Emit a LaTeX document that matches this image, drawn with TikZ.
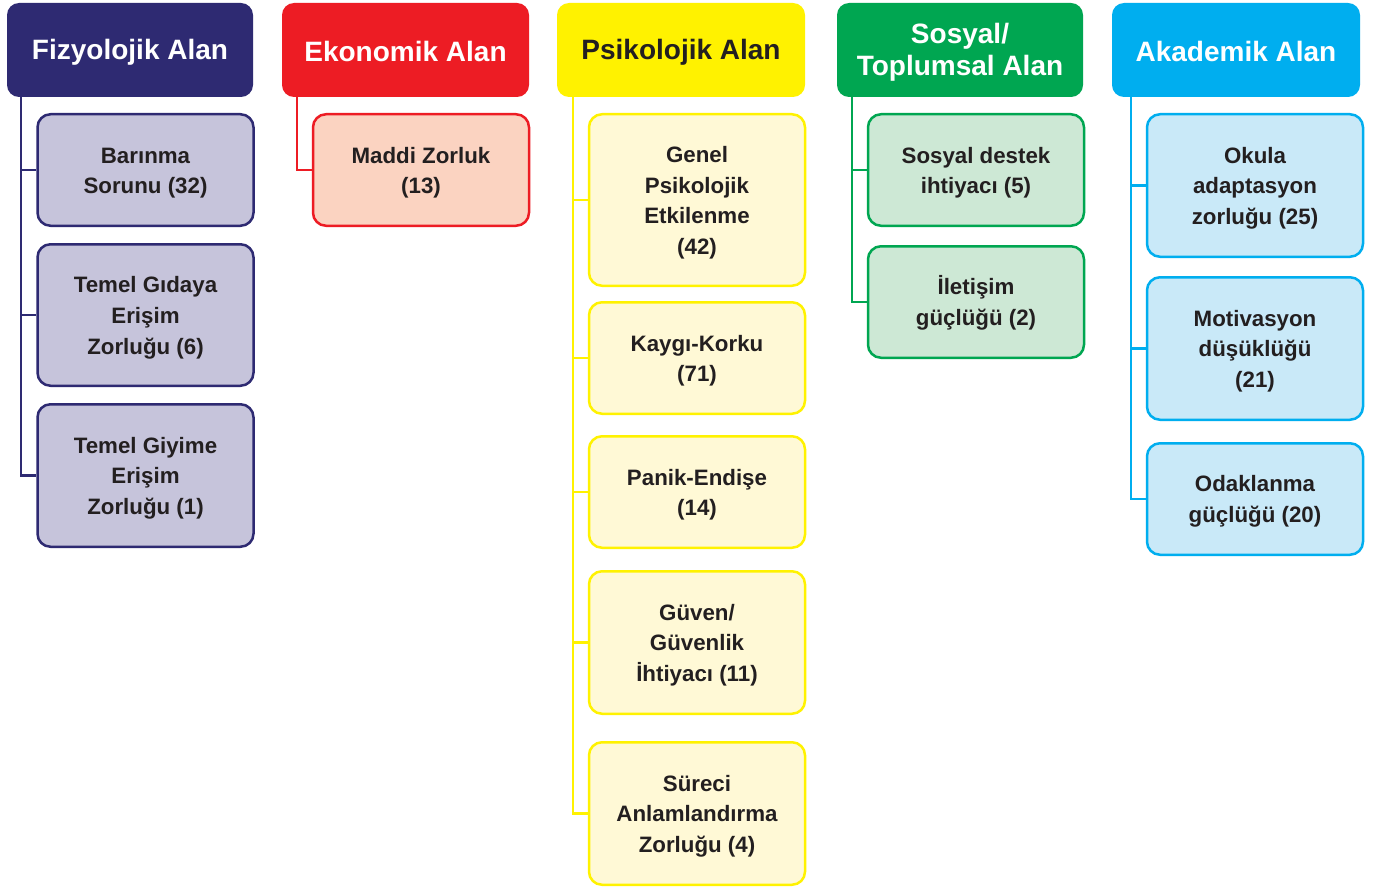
\documentclass[tikz,border=0pt]{standalone}
\usepackage{fontspec}
\setmainfont{Liberation Sans}
\definecolor{cNavy}{HTML}{2E2A72}
\definecolor{cNavyL}{HTML}{C6C4DB}
\definecolor{cRed}{HTML}{ED1C24}
\definecolor{cRedL}{HTML}{FBD3C1}
\definecolor{cYel}{HTML}{FFF200}
\definecolor{cYelL}{HTML}{FFF9D6}
\definecolor{cGrn}{HTML}{00A651}
\definecolor{cGrnL}{HTML}{CDE8D5}
\definecolor{cBlu}{HTML}{00AEEF}
\definecolor{cBluL}{HTML}{C9E9F8}
\definecolor{cTxt}{HTML}{231F20}
\newcommand\hs{\rule[-1.5pt]{0pt}{27pt}}
\newcommand\ks{\rule[-1.5pt]{0pt}{23pt}}
\tikzset{
  hdr/.style={rectangle, rounded corners=12pt, inner sep=0pt, minimum height=94pt, align=center,
    font=\fontsize{28}{29}\selectfont\bfseries, text=white},
  kid/.style={rectangle, rounded corners=13pt, inner sep=0pt, line width=2.5pt, minimum width=216pt, align=center,
    font=\fontsize{22.3}{30.8}\selectfont\bfseries, text=cTxt},
  conn/.style={line width=2.5pt},
}
\begin{document}
\begin{tikzpicture}[x=1pt,y=-1pt]
\useasboundingbox[fill=white] (0,0) rectangle (1375,888);
% headers
\node[hdr, fill=cNavy, minimum width=246pt] (f) at (130,50) {\hs Fizyolojik Alan};
\node[hdr, fill=cRed, minimum width=247pt] (e) at (405.5,50) {\hs Ekonomik Alan};
\node[hdr, fill=cYel, minimum width=248pt, text=cTxt] (p) at (681,50) {\hs Psikolojik Alan};
\node[hdr, fill=cGrn, minimum width=246pt] (s) at (960,50) {\hs Sosyal/\\\hs Toplumsal Alan};
\node[hdr, fill=cBlu, minimum width=248pt] (a) at (1236,50) {\hs Akademik Alan};
% children
\tikzset{fk/.style={kid, draw=cNavy, fill=cNavyL}}
\node[fk, minimum height=111.5pt] (f1) at (145.5,170) {\ks Barınma\\\ks Sorunu (32)};
\node[fk, minimum height=141.5pt] (f2) at (145.5,315) {\ks Temel Gıdaya\\\ks Erişim\\\ks Zorluğu (6)};
\node[fk, minimum height=142.5pt] (f3) at (145.5,475.5) {\ks Temel Giyime\\\ks Erişim\\\ks Zorluğu (1)};
\node[kid, draw=cRed, fill=cRedL, minimum height=111.5pt] (e1) at (421,170) {\ks Maddi Zorluk\\\ks (13)};
\tikzset{pk/.style={kid, draw=cYel, fill=cYelL}}
\node[pk, minimum height=171.5pt] (p1) at (697,200) {\ks Genel\\\ks Psikolojik\\\ks Etkilenme\\\ks (42)};
\node[pk, minimum height=111.5pt] (p2) at (697,358) {\ks Kaygı-Korku\\\ks (71)};
\node[pk, minimum height=111.5pt] (p3) at (697,492) {\ks Panik-Endişe\\\ks (14)};
\node[pk, minimum height=142.5pt] (p4) at (697,642.5) {\ks Güven/\\\ks Güvenlik\\\ks İhtiyacı (11)};
\node[pk, minimum height=142.5pt] (p5) at (697,813.5) {\ks Süreci\\\ks Anlamlandırma\\\ks Zorluğu (4)};
\tikzset{sk/.style={kid, draw=cGrn, fill=cGrnL}}
\node[sk, minimum height=111.5pt] (s1) at (976,170) {\ks Sosyal destek\\\ks ihtiyacı (5)};
\node[sk, minimum height=111.5pt] (s2) at (976,302) {\ks İletişim\\\ks güçlüğü (2)};
\tikzset{ak/.style={kid, draw=cBlu, fill=cBluL}}
\node[ak, minimum height=142.5pt] (a1) at (1255,185.5) {\ks Okula\\\ks adaptasyon\\\ks zorluğu (25)};
\node[ak, minimum height=142.5pt] (a2) at (1255,348.5) {\ks Motivasyon\\\ks düşüklüğü\\\ks (21)};
\node[ak, minimum height=111.5pt] (a3) at (1255,499) {\ks Odaklanma\\\ks güçlüğü (20)};
% connector roots
\coordinate (fx) at (21,97);
\coordinate (ex) at (297,97);
\coordinate (px) at (573,97);
\coordinate (sx) at (852,97);
\coordinate (ax) at (1131,97);
\begin{scope}[conn, draw=cNavy]
\draw (fx) |- (f1.west); \draw (fx) |- (f2.west); \draw (fx) |- (f3.west);
\end{scope}
\draw[conn, draw=cRed] (ex) |- (e1.west);
\begin{scope}[conn, draw=cYel]
\draw (px) |- (p1.west); \draw (px) |- (p2.west); \draw (px) |- (p3.west); \draw (px) |- (p4.west); \draw (px) |- (p5.west);
\end{scope}
\begin{scope}[conn, draw=cGrn]
\draw (sx) |- (s1.west); \draw (sx) |- (s2.west);
\end{scope}
\begin{scope}[conn, draw=cBlu]
\draw (ax) |- (a1.west); \draw (ax) |- (a2.west); \draw (ax) |- (a3.west);
\end{scope}
\end{tikzpicture}
\end{document}
